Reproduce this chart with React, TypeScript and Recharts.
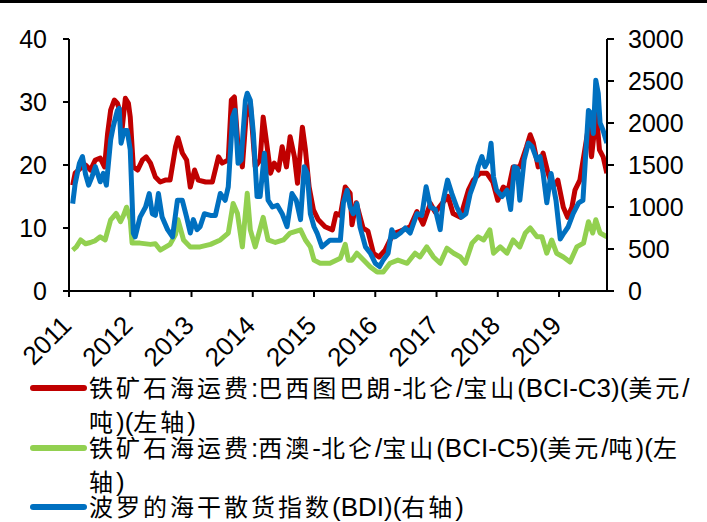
import { LineChart, Line, XAxis, YAxis } from 'recharts';

// decimal years
const c3Dates = [
  2011.06, 2011.1, 2011.19, 2011.27, 2011.35, 2011.43, 2011.51, 2011.58, 2011.63, 2011.68, 2011.74, 2011.79,
  2011.84, 2011.87, 2011.92, 2011.97, 2012.0, 2012.05, 2012.12, 2012.2, 2012.26, 2012.33, 2012.41, 2012.49,
  2012.57, 2012.65, 2012.74, 2012.78, 2012.85, 2012.92, 2012.98, 2013.05, 2013.11, 2013.23, 2013.34, 2013.44,
  2013.5, 2013.6, 2013.65, 2013.7, 2013.76, 2013.83, 2013.89, 2013.96, 2014.04, 2014.12, 2014.17, 2014.22,
  2014.29, 2014.35, 2014.42, 2014.48, 2014.55, 2014.61, 2014.68, 2014.73, 2014.81, 2014.86, 2014.92, 2014.99,
  2015.07, 2015.18, 2015.3, 2015.36, 2015.43, 2015.51, 2015.59, 2015.62, 2015.69, 2015.8, 2015.88, 2015.97,
  2016.06, 2016.16, 2016.24, 2016.32, 2016.41, 2016.57, 2016.68, 2016.78, 2016.9, 2016.98, 2017.09, 2017.19,
  2017.27, 2017.39, 2017.52, 2017.6, 2017.71, 2017.82, 2017.92, 2018.0, 2018.09, 2018.17, 2018.25, 2018.36,
  2018.47, 2018.53, 2018.58, 2018.66, 2018.74, 2018.82, 2018.9, 2018.98, 2019.07, 2019.14, 2019.21, 2019.26,
  2019.34, 2019.42, 2019.48, 2019.53, 2019.61, 2019.66, 2019.72, 2019.78,
];
const c3Values = [
  16.8, 18.7, 19.5, 20, 19.2, 20.8, 21.1, 19.7, 25, 28.7, 30.3, 29.8,
  28.2, 26, 30.6, 29.8, 27.6, 19.7, 19.2, 20.8, 21.3, 20.3, 18.1, 17.3,
  17.6, 17.6, 22.9, 24.3, 21.9, 20.8, 16.5, 19.2, 17.6, 17.3, 17.3, 21.3,
  20.3, 20.8, 30.3, 30.8, 22.9, 19.7, 27.6, 29.8, 19.7, 20.8, 27.6, 24,
  18.7, 20.3, 19.2, 22.9, 19.7, 24.5, 21.3, 17.1, 26, 22.4, 16.5, 12.9,
  11.3, 10.2, 9.7, 12.3, 12, 16.5, 15.5, 10.5, 14, 10, 9.5, 6,
  5.4, 6.5, 8.1, 9.2, 9.5, 10.2, 12.6, 10.6, 13.9, 12.5, 13.9, 15,
  12.3, 11.7, 16, 17.6, 18.7, 18.7, 17.3, 14.4, 16.5, 16, 19.7, 19.7,
  22.9, 24.8, 23.5, 19.7, 21.9, 18.7, 16.5, 17.6, 13.3, 11.7, 13.3, 16,
  17.6, 22.4, 26, 21.3, 28.2, 22.4, 21.3, 18.7,
];

const c5Dates = [
  2011.06, 2011.12, 2011.19, 2011.27, 2011.35, 2011.43, 2011.51, 2011.59, 2011.68, 2011.77, 2011.84, 2011.89,
  2011.94, 2012.0, 2012.03, 2012.16, 2012.33, 2012.41, 2012.49, 2012.65, 2012.74, 2012.78, 2012.87, 2012.98,
  2013.14, 2013.31, 2013.47, 2013.6, 2013.68, 2013.75, 2013.83, 2013.91, 2013.96, 2014.04, 2014.17, 2014.25,
  2014.37, 2014.5, 2014.61, 2014.78, 2014.86, 2014.94, 2015.0, 2015.1, 2015.26, 2015.43, 2015.51, 2015.56,
  2015.62, 2015.7, 2015.8, 2015.92, 2016.03, 2016.13, 2016.24, 2016.37, 2016.52, 2016.65, 2016.73, 2016.84,
  2016.95, 2017.06, 2017.17, 2017.28, 2017.39, 2017.47, 2017.58, 2017.68, 2017.77, 2017.87, 2017.93, 2018.04,
  2018.15, 2018.25, 2018.36, 2018.45, 2018.53, 2018.64, 2018.72, 2018.8, 2018.88, 2018.96, 2019.07, 2019.18,
  2019.29, 2019.4, 2019.48, 2019.55, 2019.6, 2019.67, 2019.78,
];
const c5Values = [
  6.5, 7, 8.1, 7.5, 7.7, 8, 8.6, 8.1, 11.3, 12.3, 11, 12,
  13.3, 11.3, 7.6, 7.6, 7.4, 7.5, 6.5, 7.4, 9, 11.3, 8.1, 7,
  7, 7.4, 8.1, 9.2, 13.9, 12.3, 7, 15.5, 9.7, 7, 11.7, 8.1,
  7.7, 8.1, 9.2, 9.7, 8.1, 7, 4.9, 4.4, 4.4, 5.2, 7.4, 4.9,
  4.9, 6, 5, 3.8, 3, 3, 4.4, 4.9, 4.4, 6, 5.4, 7,
  5.4, 4.4, 6.8, 6, 5.4, 4.4, 7.6, 8.6, 8.1, 9.7, 6, 7,
  6, 8.1, 7, 9.2, 10, 8.6, 8.6, 6, 8.1, 6, 5.4, 4.6,
  7, 7.6, 11, 9.2, 11.3, 9.2, 8.6,
];

const bdiDates = [
  2011.06, 2011.1, 2011.17, 2011.22, 2011.27, 2011.32, 2011.37, 2011.43, 2011.51, 2011.56, 2011.61, 2011.68,
  2011.72, 2011.79, 2011.82, 2011.85, 2011.9, 2011.95, 2012.0, 2012.05, 2012.08, 2012.16, 2012.25, 2012.31,
  2012.36, 2012.41, 2012.46, 2012.52, 2012.61, 2012.69, 2012.77, 2012.85, 2012.92, 2012.98, 2013.03, 2013.09,
  2013.14, 2013.21, 2013.31, 2013.39, 2013.47, 2013.55, 2013.6, 2013.67, 2013.71, 2013.76, 2013.81, 2013.88,
  2013.91, 2013.96, 2014.01, 2014.07, 2014.12, 2014.19, 2014.25, 2014.32, 2014.4, 2014.48, 2014.56, 2014.64,
  2014.71, 2014.78, 2014.84, 2014.89, 2014.94, 2015.0, 2015.05, 2015.13, 2015.26, 2015.43, 2015.48, 2015.54,
  2015.59, 2015.64, 2015.7, 2015.75, 2015.84, 2015.92, 2016.0, 2016.07, 2016.13, 2016.21, 2016.27, 2016.32,
  2016.41, 2016.49, 2016.57, 2016.68, 2016.76, 2016.83, 2016.9, 2016.98, 2017.06, 2017.11, 2017.18, 2017.25,
  2017.33, 2017.41, 2017.48, 2017.55, 2017.63, 2017.68, 2017.74, 2017.79, 2017.85, 2017.89, 2017.93, 2017.98,
  2018.07, 2018.15, 2018.21, 2018.27, 2018.32, 2018.36, 2018.43, 2018.5, 2018.56, 2018.64, 2018.69, 2018.74,
  2018.8, 2018.87, 2018.91, 2018.95, 2019.02, 2019.08, 2019.15, 2019.23, 2019.32, 2019.39, 2019.44, 2019.48,
  2019.52, 2019.56, 2019.6, 2019.64, 2019.67, 2019.72, 2019.78,
];
const bdiValues = [
  1040, 1275, 1520, 1600, 1390, 1260, 1350, 1480, 1300, 1400, 1260, 1800,
  1950, 2150, 2175, 1760, 1910, 1910, 1680, 690, 645, 880, 1000, 1160,
  920, 900, 1160, 880, 730, 645, 1080, 1080, 880, 690, 850, 730,
  765, 920, 900, 900, 1160, 1080, 1240, 2070, 2150, 1520, 1560, 2270,
  2355, 2270, 1875, 1125, 1125, 1640, 1080, 1000, 1020, 920, 765, 1160,
  1080, 850, 1480, 1400, 920, 765, 690, 525, 605, 605, 1050, 1200,
  1000, 920, 1040, 765, 525, 450, 330, 290, 370, 450, 730, 645,
  690, 750, 690, 920, 900, 1240, 1000, 970, 730, 1080, 1320, 1160,
  1000, 880, 920, 1160, 1320, 1480, 1600, 1480, 1560, 1760, 1360, 1200,
  1125, 1200, 970, 1480, 1460, 1080, 1560, 1760, 1720, 1560, 1600, 1400,
  1050, 1400, 1240, 1080, 620, 690, 765, 920, 1050, 1080, 1680, 2150,
  2115, 1875, 2510, 2355, 2000, 1910, 1760,
];

const yearTicks = [2011, 2012, 2013, 2014, 2015, 2016, 2017, 2018, 2019];
const leftTicks = [0, 10, 20, 30, 40];
const rightTicks = [0, 500, 1000, 1500, 2000, 2500, 3000];

const legendItems = [
  { color: '#C00000', lines: ['铁矿石海运费:巴西图巴朗-北仑/宝山(BCI-C3)(美元/', '吨)(左轴)'] },
  { color: '#92D050', lines: ['铁矿石海运费:西澳-北仑/宝山(BCI-C5)(美元/吨)(左', '轴)'] },
  { color: '#0070C0', lines: ['波罗的海干散货指数(BDI)(右轴)'] },
];

const c3Data = c3Dates.map((t, i) => ({ t, v: c3Values[i] }));
const c5Data = c5Dates.map((t, i) => ({ t, v: c5Values[i] }));
const bdiData = bdiDates.map((t, i) => ({ t, v: bdiValues[i] }));

const FONT = '"Liberation Sans", Arial, "Noto Sans CJK SC", sans-serif';
const tickStyle = { fontSize: 25, fill: '#000', fontFamily: FONT };

function YearTick({ x, y, payload }: { x?: number; y?: number; payload?: { value: number } }) {
  const bx = (x ?? 0) + 4;
  const by = (y ?? 0) + 28;
  return (
    <text x={bx} y={by} transform={`rotate(-45 ${bx} ${by})`} textAnchor="end" {...tickStyle} fontSize={26}>
      {payload?.value}
    </text>
  );
}

// CJK characters are spaced out wider than the latin ones in the original
function LegendLine({ text }: { text: string }) {
  const runs = text.match(/[\u4e00-\u9fff]+|[^\u4e00-\u9fff]+/g) ?? [];
  return (
    <>
      {runs.map((r, k) =>
        /[\u4e00-\u9fff]/.test(r) ? (
          <span key={k} style={{ fontSize: 24, letterSpacing: 3 }}>{r}</span>
        ) : (
          <span key={k} style={{ fontSize: 26 }}>{r}</span>
        ),
      )}
    </>
  );
}

export default function App() {
  return (
    <div style={{ position: 'absolute', left: 0, top: 0, width: 707, height: 522, background: '#fff', fontFamily: FONT }}>
      <div style={{ position: 'absolute', left: 0, top: 0, width: 707, height: 3, background: '#000' }} />
      <LineChart width={707} height={372} margin={{ top: 39, right: 0, bottom: 0, left: 0 }}>
        <XAxis
          type="number"
          dataKey="t"
          domain={[2011, 2019.783]}
          ticks={yearTicks}
          allowDataOverflow
          height={81}
          stroke="#000"
          strokeWidth={2}
          tickSize={6}
          tick={<YearTick />}
        />
        <YAxis
          yAxisId="left"
          domain={[0, 40]}
          ticks={leftTicks}
          width={69}
          stroke="#000"
          strokeWidth={2}
          tickSize={6}
          tickMargin={16}
          tick={tickStyle}
        />
        <YAxis
          yAxisId="right"
          orientation="right"
          domain={[0, 3000]}
          ticks={rightTicks}
          width={100}
          stroke="#000"
          strokeWidth={2}
          tickSize={7}
          tickMargin={14}
          tick={{ ...tickStyle, textAnchor: 'start' }}
        />
        <Line data={c3Data} dataKey="v" yAxisId="left" type="linear" stroke="#C00000" strokeWidth={5} dot={false} isAnimationActive={false} strokeLinejoin="round" />
        <Line data={c5Data} dataKey="v" yAxisId="left" type="linear" stroke="#92D050" strokeWidth={5} dot={false} isAnimationActive={false} strokeLinejoin="round" />
        <Line data={bdiData} dataKey="v" yAxisId="right" type="linear" stroke="#0070C0" strokeWidth={5} dot={false} isAnimationActive={false} strokeLinejoin="round" />
      </LineChart>
      {legendItems.map((item, i) => (
        <div key={i} style={{ position: 'absolute', left: 0, top: [373, 433, 492][i] }}>
          <div style={{ position: 'absolute', left: 30, top: 12, width: 57, height: 6, borderRadius: 3, background: item.color }} />
          {item.lines.map((line, j) => (
            <div
              key={j}
              style={{
                position: 'absolute',
                left: 89,
                top: j * 34,
                height: 30,
                lineHeight: '30px',
                color: '#000',
                whiteSpace: 'nowrap',
              }}
            >
              <LegendLine text={line} />
            </div>
          ))}
        </div>
      ))}
    </div>
  );
}
